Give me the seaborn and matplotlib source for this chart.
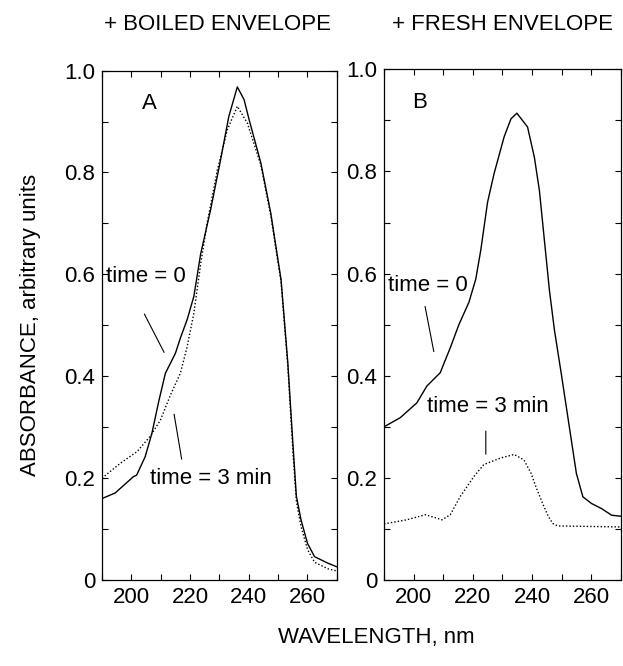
import numpy as np
import pandas as pd
import seaborn as sns
import matplotlib.pyplot as plt
import matplotlib.ticker as ticker

# panel A: + boiled envelope
a0_wl = [190, 194.5, 200.7, 201.8, 204.7, 207, 209.3, 211.6, 215, 216.7, 219, 221.3, 223.6,
         227, 230.4, 233.2, 236.1, 238.4, 240.1, 244.1, 247.5, 251, 253.3, 255, 256.2, 257.8,
         260, 262.4, 267, 270]
a0_abs = [0.16, 0.171, 0.203, 0.206, 0.242, 0.288, 0.35, 0.406, 0.445, 0.475, 0.511, 0.557, 0.64,
          0.727, 0.825, 0.91, 0.968, 0.943, 0.904, 0.819, 0.72, 0.589, 0.426, 0.27, 0.165, 0.118,
          0.072, 0.046, 0.033, 0.026]
a3_wl = [190, 196.2, 201.9, 206.4, 209.9, 213.3, 216.7, 219, 221.3, 223.6, 225.8, 229.3,
         232.7, 236.1, 239.5, 244.1, 247.5, 251, 253.3, 255, 256.2, 257.8, 260, 262.4,
         267, 270]
a3_abs = [0.2, 0.229, 0.252, 0.282, 0.314, 0.363, 0.406, 0.458, 0.524, 0.62, 0.70, 0.805,
          0.884, 0.93, 0.897, 0.815, 0.715, 0.585, 0.42, 0.255, 0.155, 0.105, 0.06, 0.035,
          0.022, 0.018]

# panel B: + fresh envelope
b0_wl = [190, 195.5, 201.1, 204.5, 209, 212.4, 215.3, 218.7, 221, 222.7, 225, 227.2, 230.6,
         232.9, 234.9, 238.5, 240.8, 242.5, 244.2, 245.9, 247.6, 249.9, 251.6, 253.3, 255,
         257.2, 260.1, 263.5, 266.9, 270]
b0_abs = [0.30, 0.318, 0.347, 0.38, 0.406, 0.455, 0.50, 0.544, 0.589, 0.646, 0.74, 0.796, 0.868,
          0.903, 0.914, 0.887, 0.828, 0.763, 0.665, 0.567, 0.489, 0.404, 0.339, 0.274, 0.209,
          0.163, 0.15, 0.14, 0.127, 0.125]
b3_wl = [190, 197.7, 204, 209.6, 212.4, 215.8, 220.4, 223.7, 229.4, 234, 237.3, 239.7,
         241.5, 243.6, 245.5, 247, 248.7, 270]
b3_abs = [0.11, 0.118, 0.128, 0.118, 0.128, 0.164, 0.203, 0.226, 0.239, 0.246, 0.235, 0.209,
          0.18, 0.15, 0.125, 0.111, 0.106, 0.104]

titles = ["+ BOILED ENVELOPE", "+ FRESH ENVELOPE"]
letters = ["A", "B"]

sns.set_theme(style="ticks")
plt.rcParams['font.family'] = ['Liberation Sans', 'DejaVu Sans']
plt.rcParams['text.color'] = 'black'

fig = plt.figure(figsize=(6.23, 6.66), dpi=100)
ax_a = fig.add_axes([0.1637, 0.129, 0.377, 0.765])
ax_b = fig.add_axes([0.6164, 0.129, 0.380, 0.767])

panels = [
    (ax_a, a0_wl, a0_abs, a3_wl, a3_abs),
    (ax_b, b0_wl, b0_abs, b3_wl, b3_abs),
]

def yfmt(v, pos):
    return "0" if abs(v) < 1e-9 else "{:.1f}".format(v)

FS = 16
for i, (ax, w0, y0, w3, y3) in enumerate(panels):
    df0 = pd.DataFrame({"wl": w0, "abs": y0})
    df3 = pd.DataFrame({"wl": w3, "abs": y3})
    sns.lineplot(data=df0, x="wl", y="abs", color="black", lw=1.0, ax=ax)
    sns.lineplot(data=df3, x="wl", y="abs", color="black", lw=1.0, linestyle=(0, (1, 1.5)), ax=ax)
    ax.set_xlim(190, 270)
    ax.set_ylim(0, 1.0)
    ax.set_xticks([200, 220, 240, 260])
    ax.xaxis.set_minor_locator(ticker.MultipleLocator(10))
    ax.set_yticks([0, 0.2, 0.4, 0.6, 0.8, 1.0])
    ax.yaxis.set_minor_locator(ticker.MultipleLocator(0.1))
    ax.yaxis.set_major_formatter(ticker.FuncFormatter(yfmt))
    ax.tick_params(which="both", direction="in", top=True, right=True, length=4, width=0.8,
                   labelsize=FS, pad=5, colors="black")
    ax.set_xlabel("")
    ax.set_ylabel("")
    for sp in ax.spines.values():
        sp.set_linewidth(0.9)
        sp.set_color("black")
    ax.text(0.2 if i == 0 else 0.15, 0.935, letters[i], transform=ax.transAxes,
            fontsize=FS, ha="center", va="center")

# annotations, panel A
ax_a.text(191.5, 0.595, "time = 0", fontsize=FS, ha="left", va="center")
ax_a.annotate("", xy=(211.6, 0.442), xytext=(204, 0.527),
              arrowprops=dict(arrowstyle="-", color="black", lw=0.8))
ax_a.text(206.5, 0.2, "time = 3 min", fontsize=FS, ha="left", va="center")
ax_a.annotate("", xy=(217.3, 0.232), xytext=(214.4, 0.331),
              arrowprops=dict(arrowstyle="-", color="black", lw=0.8))

# annotations, panel B
ax_b.text(191.5, 0.577, "time = 0", fontsize=FS, ha="left", va="center")
ax_b.annotate("", xy=(207, 0.442), xytext=(203.7, 0.541),
              arrowprops=dict(arrowstyle="-", color="black", lw=0.8))
ax_b.text(204.5, 0.34, "time = 3 min", fontsize=FS, ha="left", va="center")
ax_b.annotate("", xy=(224.4, 0.241), xytext=(224.4, 0.297),
              arrowprops=dict(arrowstyle="-", color="black", lw=0.8))

fig.text(218 / 623, 1 - 24 / 666, titles[0], fontsize=FS, ha="center", va="center")
fig.text(503 / 623, 1 - 24 / 666, titles[1], fontsize=FS, ha="center", va="center")
fig.text(376 / 623, 1 - 638 / 666, "WAVELENGTH, nm", fontsize=FS, ha="center", va="center")
fig.text(31 / 623, 1 - 325 / 666, "ABSORBANCE, arbitrary units", fontsize=FS,
         ha="center", va="center", rotation=90)

fig.savefig("out.png", dpi=100)
